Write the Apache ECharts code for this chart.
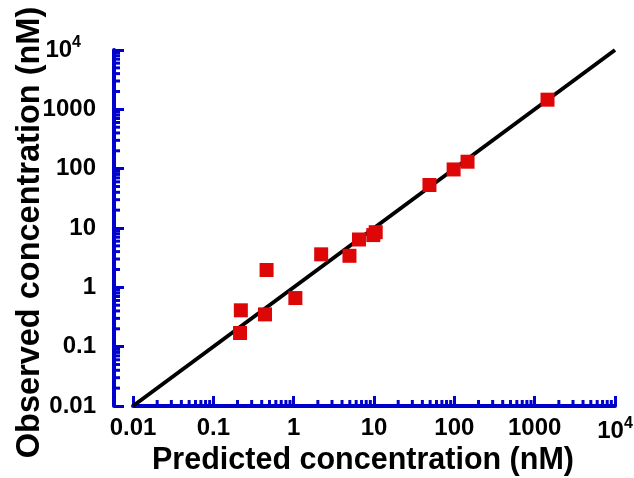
<!DOCTYPE html>
<html>
<head>
<meta charset="utf-8">
<script src="https://cdn.jsdelivr.net/npm/echarts@6/dist/echarts.min.js"></script>
<style>
  html, body { margin: 0; padding: 0; background: #fff; }
  #chart { width: 634px; height: 478px; }
</style>
</head>
<body>
<div id="chart"></div>
<script>
// measured points (predicted, observed), nM
const predicted = [0.215, 0.22, 0.44, 0.46, 1.05, 2.2, 4.95, 6.5, 9.8, 10.5, 49, 98, 146, 1445];
const observed = [0.17, 0.41, 0.35, 1.96, 0.66, 3.6, 3.4, 6.4, 7.6, 8.5, 53, 97, 131, 1455];

// identity line ends
const fitX = [0.01, 10000];

// axis range and labels (by decade exponent -2..4)
const axisMin = 0.01;
const axisMax = 10000;
const tickLabels = ["0.01", "0.1", "1", "10", "100", "1000", "10^4"];

// minor ticks: 2..9 in each decade
const decades = [0.01, 0.1, 1, 10, 100, 1000];
const minorMult = [2, 3, 4, 5, 6, 7, 8, 9];

const blue = "#0000cc";
const yOffset = 19;

const minorVals = [];
decades.forEach((d) => {
  minorMult.forEach((m) => {
    minorVals.push(+(d * m).toPrecision(3));
  });
});

function labelFor(v, side) {
  const e = Math.round(Math.log10(v));
  const txt = tickLabels[e + 2];
  if (txt === "10^4") {
    return side === "y" ? "{n|10}{sy|4}" : "{n|10}{s|4}";
  }
  return "{n|" + txt + "}";
}

const font = "Liberation Sans";
const labelRich = {
  n: { fontSize: 24, fontWeight: "bold", fontFamily: font, color: "#000" },
  s: { fontSize: 16, fontWeight: "bold", fontFamily: font, color: "#000", padding: [0, 0, 14, 0] },
  sy: { fontSize: 16, fontWeight: "bold", fontFamily: font, color: "#000", padding: [0, 15, 14, 0] },
};

const chart = echarts.init(document.getElementById("chart"));

const option = {
  animation: false,
  backgroundColor: "#fff",
  grid: { left: 133, right: 19, top: 50, bottom: 72, outerBoundsMode: "none", containLabel: false },
  xAxis: {
    type: "log",
    logBase: 10,
    min: axisMin,
    max: axisMax,
    splitNumber: 6,
    name: "Predicted concentration (nM)",
    nameLocation: "middle",
    nameGap: 39,
    nameMoveOverlap: false,
    nameTextStyle: { fontSize: 30.5, fontWeight: "bold", fontFamily: font, color: "#000", padding: [0, 22, 0, 0] },
    axisLine: { show: true, lineStyle: { color: blue, width: 4 } },
    axisTick: { show: true, inside: true, length: 10, lineStyle: { color: blue, width: 3 } },
    splitLine: { show: false },
    axisLabel: {
      margin: 10,
      fontSize: 24,
      fontWeight: "bold",
      fontFamily: font,
      color: "#000",
      formatter: (v) => labelFor(v, "x"),
      rich: labelRich,
    },
  },
  yAxis: {
    type: "log",
    logBase: 10,
    min: axisMin,
    max: axisMax,
    splitNumber: 6,
    offset: yOffset,
    name: "Observed concentration (nM)",
    nameLocation: "middle",
    nameGap: 67,
    nameMoveOverlap: false,
    nameTextStyle: { fontSize: 32.5, fontWeight: "bold", fontFamily: font, color: "#000", padding: [0, 9, 0, 0] },
    axisLine: { show: true, lineStyle: { color: blue, width: 4 } },
    axisTick: { show: true, inside: true, length: 10, lineStyle: { color: blue, width: 3 } },
    splitLine: { show: false },
    axisLabel: {
      margin: 18,
      fontSize: 24,
      fontWeight: "bold",
      fontFamily: font,
      color: "#000",
      formatter: (v) => labelFor(v, "y"),
      rich: labelRich,
    },
  },
  series: [
    {
      // x axis minor ticks
      type: "custom",
      silent: true,
      clip: false,
      data: minorVals.map((v) => [v, axisMin]),
      renderItem: (params, api) => {
        const p = api.coord([api.value(0), api.value(1)]);
        return {
          type: "rect",
          shape: { x: p[0] - 1.5, y: p[1] - 6, width: 3, height: 6 },
          style: { fill: blue },
        };
      },
      z: 1,
    },
    {
      // y axis minor ticks
      type: "custom",
      silent: true,
      clip: false,
      data: minorVals.map((v) => [axisMin, v]),
      renderItem: (params, api) => {
        const p = api.coord([api.value(0), api.value(1)]);
        return {
          type: "rect",
          shape: { x: p[0] - yOffset, y: p[1] - 1.5, width: 6, height: 3 },
          style: { fill: blue },
        };
      },
      z: 1,
    },
    {
      type: "line",
      data: fitX.map((v) => [v, v]),
      symbol: "none",
      lineStyle: { color: "#000", width: 4 },
      z: 2,
    },
    {
      type: "scatter",
      data: predicted.map((v, i) => [v, observed[i]]),
      symbol: "rect",
      symbolSize: 14,
      itemStyle: { color: "#dd0707", opacity: 1 },
      z: 3,
    },
  ],
};

chart.setOption(option);
</script>
</body>
</html>
